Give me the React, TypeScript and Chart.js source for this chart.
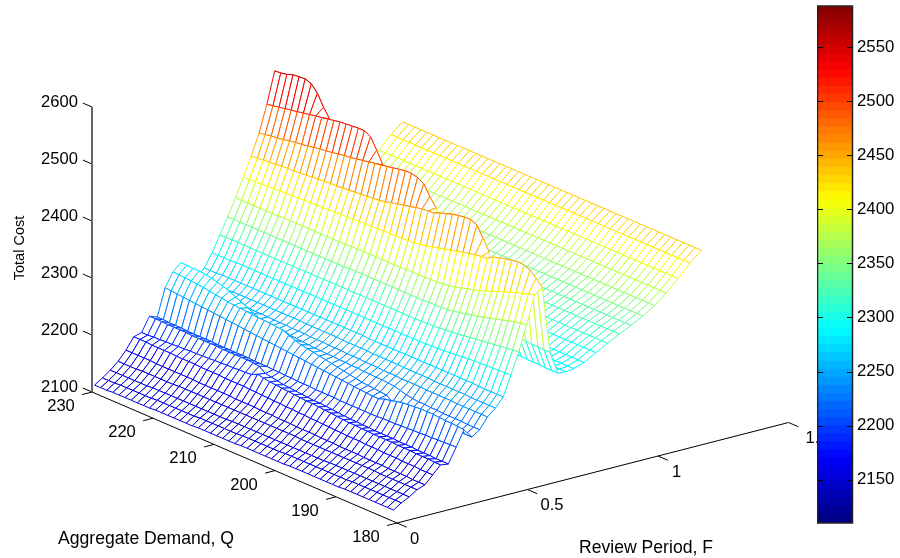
import React, { useEffect, useRef } from "react";
import { Chart, registerables } from "chart.js";
Chart.register(...registerables);

const BASE = 2100;
const COLOR_MIN = 2110;
const COLOR_MAX = 2588;
const qValues = [230,229,228,227,226,225,224,223,222,221,220,219,218,217,216,215,214,213,212,211,210,209,208,207,206,205,204,203,202,201,200,199,198,197,196,195,194,193,192,191,190,189,188,187,186,185,184,183,182,181];
const fValues = [0.01,0.04,0.07,0.10,0.13,0.16,0.19,0.22,0.25,0.28,0.31,0.34,0.37,0.40,0.43,0.46,0.49,0.52,0.55,0.58,0.61,0.64,0.67,0.70,0.74,0.785,0.83,0.875,0.92,0.965,1.01,1.055,1.10,1.145,1.19];
// cost above BASE, one array per F value, each listed from Q=230 down to Q=181
const c00 = [11,11,11,12,12,12,12,12,12,12,13,13,13,13,13,13,13,14,14,14,14,14,14,14,15,15,15,15,15,15,15,15,16,16,16,16,16,16,16,16,16,17,17,17,17,17,17,17,17,17];
const c01 = [20,20,20,21,21,21,21,21,21,22,22,22,22,22,22,22,23,23,23,23,23,23,23,24,24,24,24,24,24,24,25,25,25,25,25,25,25,25,25,25,25,26,26,26,26,26,26,26,26,26];
const c02 = [30,30,30,30,30,30,30,31,31,31,31,31,31,31,31,31,31,31,31,31,32,32,32,32,32,32,32,32,32,32,32,32,32,32,32,32,33,33,33,33,33,33,33,33,33,33,33,33,33,33];
const c03 = [42,42,42,42,43,43,43,43,43,43,44,44,44,44,44,44,44,44,44,44,44,44,44,44,44,44,44,44,44,44,43,43,43,43,43,43,43,43,43,43,43,43,43,42,42,42,42,42,42,42];
const c04 = [58,58,58,58,58,57,57,57,57,57,57,57,56,56,56,56,56,56,55,55,55,55,54,54,54,53,53,53,52,52,52,52,51,51,51,50,50,50,50,49,49,49,49,48,48,48,48,47,47,47];
const c05 = [78,78,78,77,77,77,77,76,76,76,76,75,75,75,75,74,74,74,74,73,73,72,72,71,71,70,70,69,69,68,68,67,67,66,66,65,65,65,64,64,64,63,63,63,62,62,62,61,61,61];
const c06 = [82,82,83,83,84,84,85,85,86,86,87,87,88,88,89,89,90,90,91,96,94,92,91,90,89,88,87,86,86,85,84,83,82,81,80,80,79,79,78,78,78,78,77,77,77,76,76,76,75,75];
const c07 = [107,107,107,106,106,106,106,105,105,105,105,105,104,104,104,104,104,103,102,94,92,90,88,87,86,85,84,83,83,82,81,80,79,78,78,77,77,76,76,76,76,75,75,75,74,74,74,73,73,73];
const c08 = [102,102,101,101,101,100,100,100,100,100,99,99,99,99,99,99,98,98,98,97,97,96,96,95,95,95,94,94,94,94,93,93,93,93,93,93,93,94,94,94,95,95,96,96,97,97,98,98,99,99];
const c09 = [150,149,148,147,146,145,144,143,142,141,140,139,138,137,136,135,134,133,132,131,130,129,128,127,126,125,124,123,122,121,120,119,118,117,116,116,120,122,125,127,128,129,130,130,130,129,128,128,127,126];
const c10 = [174,174,173,172,171,170,168,166,165,163,162,161,160,159,158,158,157,156,155,150,146,143,141,139,137,135,133,131,129,127,125,123,122,121,120,119,112,112,112,111,111,111,111,110,110,110,110,110,110,110];
const c11 = [187,187,186,186,185,183,180,177,173,168,163,158,153,148,143,145,144,143,142,141,140,139,138,138,137,137,136,136,135,135,134,134,133,133,132,131,128,125,123,122,122,121,121,120,120,120,120,119,119,119];
const c12 = [150,150,150,150,150,149,149,149,149,149,148,148,148,148,147,147,147,146,146,146,145,145,145,144,144,144,143,143,143,142,142,142,141,141,141,140,140,140,140,139,139,139,139,139,138,138,138,138,138,138];
const c13 = [155,155,155,155,155,155,156,156,156,156,156,156,156,156,156,156,156,156,155,155,155,155,155,155,154,154,154,154,154,153,153,153,153,153,152,152,152,152,152,151,151,151,151,151,151,150,150,150,150,150];
const c14 = [167,167,167,168,168,168,168,168,168,168,168,168,168,168,168,168,168,168,168,168,168,168,168,168,168,168,168,167,167,167,167,167,167,167,167,167,167,167,167,167,167,167,167,167,167,166,166,166,166,166];
const c15 = [190,190,190,190,191,191,191,191,191,191,191,191,191,191,191,191,191,191,191,191,191,191,191,191,191,191,191,191,191,191,191,191,191,191,191,191,192,192,193,194,195,196,197,198,198,199,199,200,200,201];
const c16 = [218,218,218,218,218,218,218,218,218,218,218,218,218,218,218,218,218,218,218,218,218,218,218,218,218,218,218,218,218,218,218,218,218,218,219,219,220,221,222,223,225,226,228,229,231,232,234,235,237,238];
const c17 = [246,246,246,246,246,246,246,246,246,246,246,246,246,246,246,246,246,246,246,246,247,247,247,247,247,247,247,247,247,247,247,247,247,248,248,248,249,251,253,255,258,260,263,266,269,272,275,278,280,282];
const c18 = [276,276,276,276,276,276,276,276,277,277,277,277,277,277,277,277,277,277,277,278,278,278,278,278,278,278,278,278,279,279,279,279,280,280,281,283,285,288,291,294,297,301,305,309,313,317,321,324,328,331];
const c19 = [309,309,310,310,311,311,312,312,313,313,314,314,315,315,316,316,317,317,318,318,319,319,319,320,320,320,321,321,322,324,326,329,331,334,337,340,342,345,347,349,350,357,360,363,365,367,366,361,352,340];
const c20 = [342,343,344,345,346,347,348,348,349,350,351,352,353,354,354,355,356,357,358,359,360,361,363,366,368,371,373,376,378,379,380,385,388,392,394,396,396,391,373,353,228,227,226,226,225,225,224,224,223,223];
const c21 = [379,381,383,384,386,388,390,391,393,395,397,398,400,402,404,405,407,409,411,413,415,417,419,421,423,423,420,414,396,381,230,229,228,228,227,227,226,226,225,225,186,185,185,185,184,184,184,183,183,183];
const c22 = [426,428,430,432,434,436,438,440,442,444,446,448,450,451,452,453,453,447,428,407,232,231,230,230,229,229,228,228,228,228,192,192,191,191,191,190,190,190,190,190,183,183,183,183,182,182,182,182,182,182];
const c23 = [481,482,484,488,489,490,486,474,454,438,234,233,232,232,231,231,230,230,230,230,194,193,193,192,192,192,192,192,192,192,187,187,187,186,186,186,186,186,186,186,185,185,185,185,185,185,184,184,184,184];
const c24 = [220,219,218,217,216,216,215,215,215,215,196,196,195,195,194,194,194,193,193,193,192,192,192,192,192,192,191,191,191,191,191,191,191,191,191,191,191,191,191,191,190,190,190,190,190,190,190,190,190,190];
const c25 = [206,206,206,206,206,206,205,205,205,205,205,205,205,205,205,205,204,204,204,204,204,204,204,204,204,204,204,204,203,203,203,203,203,203,203,203,203,203,203,203,202,202,202,202,202,202,202,202,202,202];
const c26 = [215,215,215,215,215,215,215,215,215,215,215,215,215,215,214,214,214,214,214,214,214,214,214,214,214,214,214,214,214,214,214,214,214,214,214,214,213,213,213,213,213,213,213,213,213,213,213,213,213,213];
const c27 = [225,225,225,225,225,225,225,225,225,225,225,225,225,225,225,225,225,225,225,225,225,225,225,225,225,224,224,224,224,224,224,224,224,224,224,224,224,224,224,224,224,224,224,224,224,224,224,224,224,224];
const c28 = [235,235,235,235,235,235,235,235,235,235,235,235,235,235,235,235,235,235,235,235,235,235,235,235,235,235,235,235,234,234,234,234,234,234,234,234,234,234,234,234,234,234,234,234,234,234,234,234,234,234];
const c29 = [245,245,245,245,245,245,245,245,245,245,245,245,245,245,245,245,245,245,245,245,245,245,245,245,245,245,245,245,245,245,245,245,245,245,245,245,245,245,245,245,245,245,245,245,245,245,245,245,245,245];
const c30 = [258,258,258,258,258,258,258,258,258,258,258,258,258,258,258,258,258,258,258,258,258,258,258,258,258,258,258,258,258,258,258,258,258,258,258,258,258,258,258,258,258,258,258,258,258,258,258,258,258,258];
const c31 = [275,275,275,275,275,275,275,275,275,275,275,275,275,275,275,275,275,275,275,275,275,275,275,275,275,275,275,275,275,275,275,275,275,275,275,275,275,275,275,275,275,275,275,275,275,275,275,275,275,275];
const c32 = [295,295,295,295,295,295,295,295,295,295,295,295,295,295,295,295,295,295,295,295,295,295,295,295,295,295,295,295,295,295,295,295,295,295,295,295,295,295,295,295,295,295,295,295,295,295,295,295,295,295];
const c33 = [317,317,317,317,317,317,317,317,317,317,317,317,317,317,317,317,317,317,317,317,317,317,317,317,317,317,317,317,317,317,317,317,317,317,317,317,317,317,317,317,317,317,317,317,317,317,317,317,317,317];
const c34 = [334,334,334,334,334,334,334,334,334,334,334,334,334,334,334,334,334,334,334,334,334,334,334,334,334,334,334,334,334,334,334,334,334,334,334,334,334,334,334,334,334,334,334,334,334,334,334,334,334,334];
const columns = [c00,c01,c02,c03,c04,c05,c06,c07,c08,c09,c10,c11,c12,c13,c14,c15,c16,c17,c18,c19,c20,c21,c22,c23,c24,c25,c26,c27,c28,c29,c30,c31,c32,c33,c34];

const qTicks = [230,220,210,200,190,180];
const fTicks = [0,0.5,1,1.5];
const fTickLabels = ["0","0.5","1","1.5"];
const zTicks = [2100,2200,2300,2400,2500,2600];
const FONT = '"Liberation Sans", Arial, sans-serif';

// orthographic view of the 3-D box
const project = (q: number, f: number, z: number) => ({
  x: 397 + 261 * f - 6.1 * (q - 180),
  y: 523 - 67 * f - 2.62 * (q - 180) - 0.57 * (z - BASE),
});

const clamp = (v: number) => Math.max(0, Math.min(1, v));
const jet = (z: number) => {
  const t = clamp((z - COLOR_MIN) / (COLOR_MAX - COLOR_MIN));
  const v = (Math.min(63, Math.floor(t * 64)) + 0.5) / 64;
  const c = (d: number) => Math.round(255 * clamp(1.5 - Math.abs(4 * v - d)));
  return `rgb(${c(3)},${c(2)},${c(1)})`;
};
// front-wall edges read slightly cooler than the colour bar near the top; no edge reaches its darkest blue
const edgeColor = (z: number, frontWall: boolean) =>
  jet(Math.max(2150, frontWall ? z - Math.max(0, z - 2350) * 0.15 : z));

const zAt = (i: number, j: number) => {
  const col = columns[j];
  return BASE + (col[i] ?? col[col.length - 1]);
};

const buildQuads = () => {
  const out: any[] = [];
  // the first dataset is painted last, so the nearest quads go first
  for (let j = 0; j < fValues.length - 1; j++) {
    for (let i = qValues.length - 2; i >= 0; i--) {
      const corners = [[i, j], [i + 1, j], [i + 1, j + 1], [i, j + 1], [i, j]];
      const zs = corners.map(([a, b]) => zAt(a, b));
      const colors = zs.map((z, k) => edgeColor((z + zs[(k + 1) % 5]) / 2, j < 23));
      out.push({
        data: corners.map(([a, b], k) => project(qValues[a], fValues[b], zs[k])),
        showLine: true,
        whiteFace: true,
        borderWidth: 1,
        borderColor: colors[0],
        pointRadius: 0,
        tension: 0,
        segment: { borderColor: (ctx: any) => colors[ctx.p0DataIndex] },
      });
    }
  }
  return out;
};

const axisLine = (pts: { x: number; y: number }[], color = "#000000", width = 1) => ({
  data: pts, showLine: true, borderColor: color, borderWidth: width, pointRadius: 0, fill: false, tension: 0,
});

const buildAxes = () => {
  const out: any[] = [];
  out.push(axisLine([project(180, 0, BASE), project(230, 0, BASE)]));
  out.push(axisLine([project(180, 0, BASE), project(180, 1.5, BASE)]));
  out.push(axisLine([project(230, 0, 2100), project(230, 0, 2600)], "#666666", 2));
  qTicks.forEach((q) => out.push(axisLine([project(q, 0, BASE), project(q, -0.038, BASE)])));
  fTicks.forEach((f) => out.push(axisLine([project(180, f, BASE), project(178.4, f, BASE)])));
  zTicks.forEach((z) => out.push(axisLine([project(230, 0, z), project(231.5, 0, z)])));
  return out;
};

// each mesh cell hides what lies behind it: its own points, as placed by the scales, get a white face
const facePlugin = {
  id: "meshFace",
  beforeDatasetDraw(chart: any, args: any) {
    const ds = chart.data.datasets[args.index];
    if (!ds.whiteFace) return;
    const pts = args.meta.data;
    const ctx = chart.ctx;
    ctx.save();
    ctx.fillStyle = "#ffffff";
    ctx.beginPath();
    pts.forEach((p: any, k: number) => (k ? ctx.lineTo(p.x, p.y) : ctx.moveTo(p.x, p.y)));
    ctx.closePath();
    ctx.fill();
    ctx.restore();
  },
};

const textPlugin = {
  id: "axisText",
  afterDraw(chart: any) {
    const { ctx, scales } = chart;
    const put = (q: number, f: number, z: number, dx: number, dy: number, s: string, align: any, size = 16.6) => {
      const p = project(q, f, z);
      ctx.font = `${size}px ${FONT}`;
      ctx.textAlign = align;
      ctx.textBaseline = "middle";
      ctx.fillStyle = "#000";
      ctx.fillText(s, scales.x.getPixelForValue(p.x) + dx, scales.y.getPixelForValue(p.y) + dy);
    };
    ctx.save();
    qTicks.forEach((q) => put(q, 0, BASE, -31, 14.5, String(q), "center"));
    const fDx = [13, 13, 14, 17];
    fTicks.forEach((f, k) => put(180, f, BASE, fDx[k], 16, fTickLabels[k], "left"));
    zTicks.forEach((z) => put(230, 0, z, -14, -4.5, String(z), "right"));
    ctx.font = `17.6px ${FONT}`;
    ctx.textAlign = "center";
    ctx.fillStyle = "#000";
    ctx.fillText("Aggregate Demand, Q", 146, 539);
    ctx.font = `17.6px ${FONT}`;
    ctx.fillText("Review Period, F", 646, 548);
    ctx.translate(20, 248);
    ctx.rotate(-Math.PI / 2);
    ctx.font = `14.5px ${FONT}`;
    ctx.fillText("Total Cost", 0, 0);
    ctx.restore();
  },
};

const barPlugin = {
  id: "barFrame",
  afterDraw(chart: any) {
    const { ctx, chartArea: a, scales } = chart;
    ctx.save();
    ctx.strokeStyle = "#000";
    ctx.lineWidth = 1;
    scales.y.ticks.forEach((t: any) => {
      const y = Math.round(scales.y.getPixelForValue(t.value)) + 0.5;
      ctx.beginPath();
      ctx.moveTo(a.left, y); ctx.lineTo(a.left + 6, y);
      ctx.moveTo(a.right - 6, y); ctx.lineTo(a.right, y);
      ctx.stroke();
    });
    ctx.lineWidth = 1.5;
    ctx.strokeStyle = "#222";
    ctx.strokeRect(a.left + 0.5, a.top, a.right - a.left - 1, a.bottom - a.top);
    ctx.restore();
  },
};

const barLevels = Array.from({ length: 64 }, (_, k) => k);

export default function App() {
  const surfaceRef = useRef<HTMLCanvasElement>(null);
  const barRef = useRef<HTMLCanvasElement>(null);
  useEffect(() => {
    const surface = new Chart(surfaceRef.current!, {
      type: "scatter",
      data: { datasets: [...buildQuads(), ...buildAxes()] },
      options: {
        animation: false, responsive: false, events: [],
        layout: { padding: 0 },
        plugins: { legend: { display: false }, tooltip: { enabled: false } },
        scales: {
          x: { type: "linear", min: 0, max: 900, display: false },
          y: { type: "linear", min: 0, max: 558, reverse: true, display: false },
        },
      },
      plugins: [facePlugin, textPlugin],
    } as any);
    const span = (COLOR_MAX - COLOR_MIN) / 64;
    const bar = new Chart(barRef.current!, {
      type: "bar",
      data: {
        labels: ["Total Cost"],
        datasets: barLevels.map((k) => ({
          data: [[COLOR_MIN + k * span, COLOR_MIN + (k + 1) * span + 0.4]],
          backgroundColor: jet(COLOR_MIN + (k + 0.5) * span),
          borderWidth: 0,
          categoryPercentage: 1,
          barPercentage: 1,
          grouped: false,
        })),
      },
      options: {
        animation: false, responsive: false, events: [],
        layout: { padding: { top: 6, bottom: 35, left: 0, right: 0 } },
        plugins: { legend: { display: false }, tooltip: { enabled: false } },
        scales: {
          x: { display: false },
          y: {
            position: "right", min: COLOR_MIN, max: COLOR_MAX,
            afterFit: (s: any) => { s.width = 47; s.paddingTop = 0; s.paddingBottom = 0; },
            grid: { display: false, drawTicks: false },
            border: { display: false },
            ticks: { stepSize: 50, includeBounds: false, padding: 4, color: "#000", font: { family: FONT, size: 16.8 }, callback: (v: any) => String(v) },
          },
        },
      },
      plugins: [barPlugin],
    } as any);
    return () => { surface.destroy(); bar.destroy(); };
  }, []);
  return (
    <div style={{ position: "absolute", left: 0, top: 0, width: 900, height: 558, background: "#fff" }}>
      <canvas ref={surfaceRef} width={900} height={558} style={{ position: "absolute", left: 0, top: 0 }} />
      <canvas ref={barRef} width={83} height={558} style={{ position: "absolute", left: 817, top: 0 }} />
    </div>
  );
}
